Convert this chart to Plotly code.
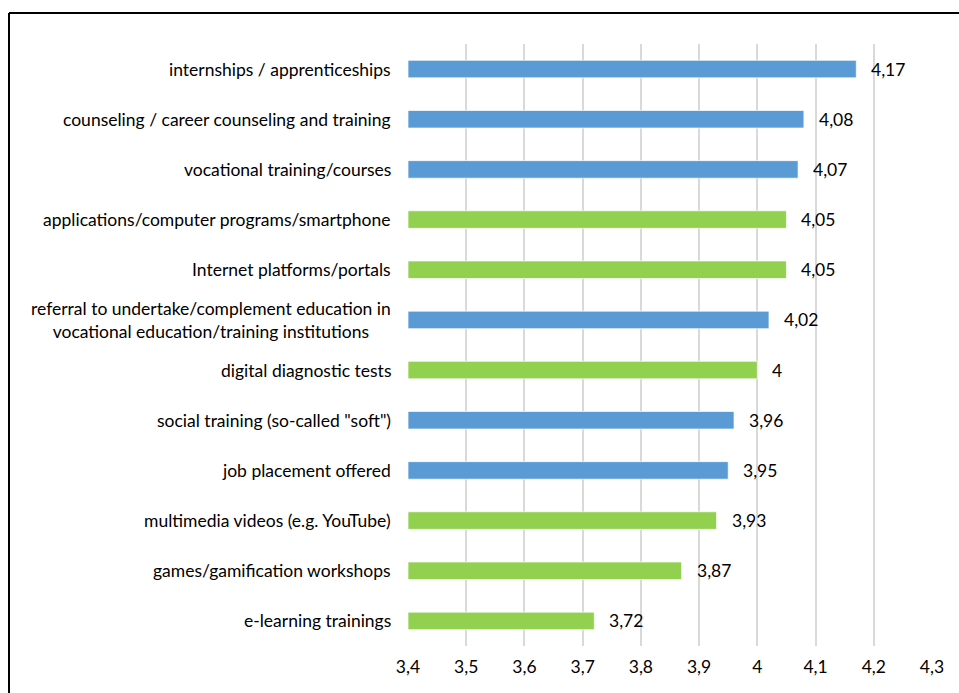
import plotly.graph_objects as go

categories = [
    "internships / apprenticeships",
    "counseling / career counseling and training",
    "vocational training/courses",
    "applications/computer programs/smartphone",
    "Internet platforms/portals",
    "referral to undertake/complement education in<br>vocational education/training institutions",
    "digital diagnostic tests",
    "social training (so-called \"soft\")",
    "job placement offered",
    "multimedia videos (e.g. YouTube)",
    "games/gamification workshops",
    "e-learning trainings",
]
values = [4.17, 4.08, 4.07, 4.05, 4.05, 4.02, 4.00, 3.96, 3.95, 3.93, 3.87, 3.72]
groups = ["blue", "blue", "blue", "green", "green", "blue", "green", "blue", "blue", "green", "green", "green"]
tick_vals = [3.4, 3.5, 3.6, 3.7, 3.8, 3.9, 4.0, 4.1, 4.2, 4.3]
tick_text = ["3,4", "3,5", "3,6", "3,7", "3,8", "3,9", "4", "4,1", "4,2", "4,3"]

color_map = {"blue": "#5B9BD5", "green": "#92D050"}
colors = [color_map[g] for g in groups]
ypos = list(range(len(categories)))
BASE = 3.4

FONT = "Lato, Carlito, Calibri, sans-serif"
FS = 17.5

fig = go.Figure()
fig.add_trace(go.Bar(
    x=[v - BASE for v in values], y=ypos, base=BASE, orientation="h",
    marker=dict(color=colors, line=dict(color="rgba(255,255,255,0.7)", width=1)),
    width=0.35, showlegend=False, hoverinfo="skip",
))

annotations = []
for i, (c, v) in enumerate(zip(categories, values)):
    lbl = ("%g" % v).replace(".", ",")
    annotations.append(dict(x=v, y=i, xref="x", yref="y", text=lbl, showarrow=False,
                            xanchor="left", xshift=13, font=dict(size=FS, color="#000", family=FONT)))
    annotations.append(dict(x=0, y=i, xref="paper", yref="y", text=c, showarrow=False,
                            xanchor="right", align="center", xshift=-15,
                            font=dict(size=FS, color="#000", family=FONT)))

W, H = 959, 693
L, T = 408, 44
R = W - 932
B = H - 646
pw, ph = W - L - R, H - T - B

def px_x(p):
    return (p - L) / pw

def px_y(p):
    return (H - B - p) / ph

fig.update_layout(
    width=W, height=H,
    margin=dict(l=L, r=R, t=T, b=B),
    paper_bgcolor="white", plot_bgcolor="white",
    font=dict(family=FONT, size=FS, color="#000"),
    xaxis=dict(range=[3.4, 4.3], tickvals=tick_vals, ticktext=tick_text,
               showgrid=True, gridcolor="#D9D9D9", gridwidth=2,
               zeroline=False, showline=False, ticks="", ticklabelstandoff=8,
               tickfont=dict(size=FS, family=FONT, color="#000")),
    yaxis=dict(range=[len(categories) - 0.5, -0.5], showticklabels=False,
               showgrid=False, zeroline=False, showline=False),
    annotations=annotations,
    shapes=[
        dict(type="line", xref="paper", yref="paper",
             x0=px_x(9), x1=px_x(1100), y0=px_y(13), y1=px_y(13),
             line=dict(color="#000", width=2), layer="below"),
        dict(type="line", xref="paper", yref="paper",
             x0=px_x(9), x1=px_x(9), y0=px_y(13), y1=px_y(800),
             line=dict(color="#000", width=2), layer="below"),
    ],
)
fig.write_html("out.html", config={"displayModeBar": False},
               post_script="document.body.style.margin='0';document.body.style.overflow='hidden';")
